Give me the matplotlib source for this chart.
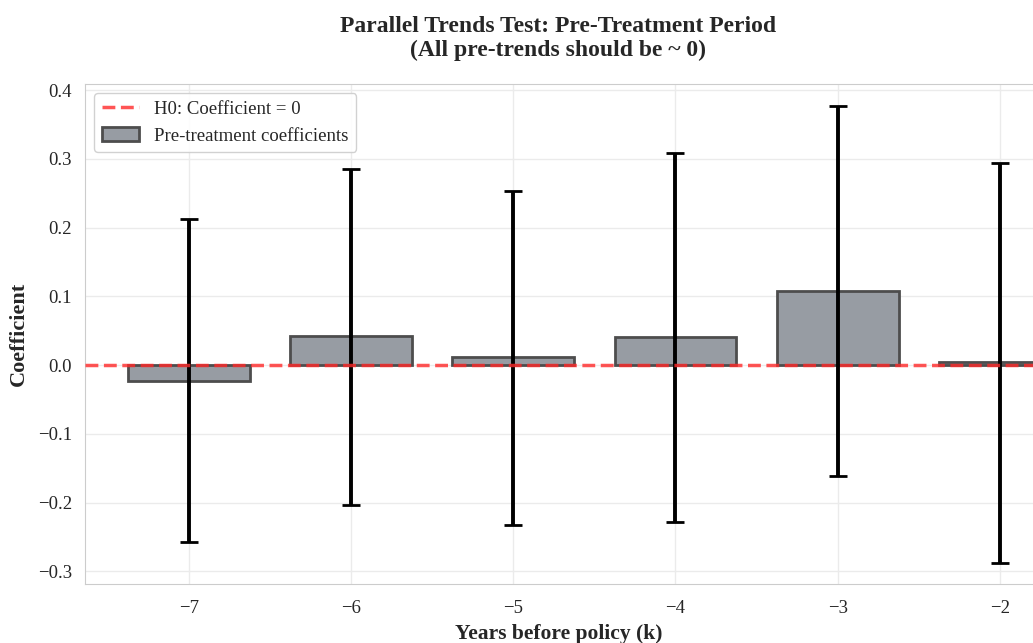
import numpy as np
import matplotlib.pyplot as plt
import seaborn as sns

# event-time coefficients before the policy
years = [-7, -6, -5, -4, -3, -2]
coefs = [-0.023, 0.042, 0.011, 0.041, 0.108, 0.004]
ci_lower = [-0.257, -0.203, -0.232, -0.229, -0.161, -0.288]
ci_upper = [0.212, 0.285, 0.253, 0.309, 0.377, 0.294]

sns.set_style("whitegrid")
plt.rcParams['font.family'] = ['Liberation Serif', 'DejaVu Serif']

coefs = np.array(coefs)
yerr = [coefs - np.array(ci_lower), np.array(ci_upper) - coefs]

fig = plt.figure(figsize=(10.33, 6.43), dpi=100)
ax = fig.add_axes([0.0823, 0.0918, 0.9862, 0.7775])

ax.bar(years, coefs, width=0.75, color='#979ca3', edgecolor='#4d4d4d',
       linewidth=2, label='Pre-treatment coefficients', zorder=2)
ax.errorbar(years, coefs, yerr=yerr, fmt='none', ecolor='black',
            elinewidth=2.8, capsize=6.5, capthick=2, zorder=3)
ax.axhline(0, color='#ff2a2a', linestyle='--', linewidth=2.5, alpha=0.8,
           label='H0: Coefficient = 0', zorder=4)

ax.set_xlim(-7.64, -1.36)
ax.set_ylim(-0.3185, 0.4087)
ax.set_xticks(years)
ax.tick_params(axis='x', labelsize=13.5, colors='#262626', pad=8)
ax.tick_params(axis='y', labelsize=13.5, colors='#262626', pad=6)
ax.grid(True, color='#ebebeb', linewidth=1)

ax.set_xlabel('Years before policy (k)', fontsize=15.5, fontweight='bold', x=0.465, labelpad=5)
ax.set_ylabel('Coefficient', fontsize=16, fontweight='bold', labelpad=6)
ax.set_title('Parallel Trends Test: Pre-Treatment Period\n(All pre-trends should be ~ 0)',
             fontsize=17, fontweight='bold', x=0.464, pad=20)

ax.legend(loc='upper left', fontsize=13.5, frameon=True, framealpha=0.9)

fig.savefig('out.png', dpi=100)
